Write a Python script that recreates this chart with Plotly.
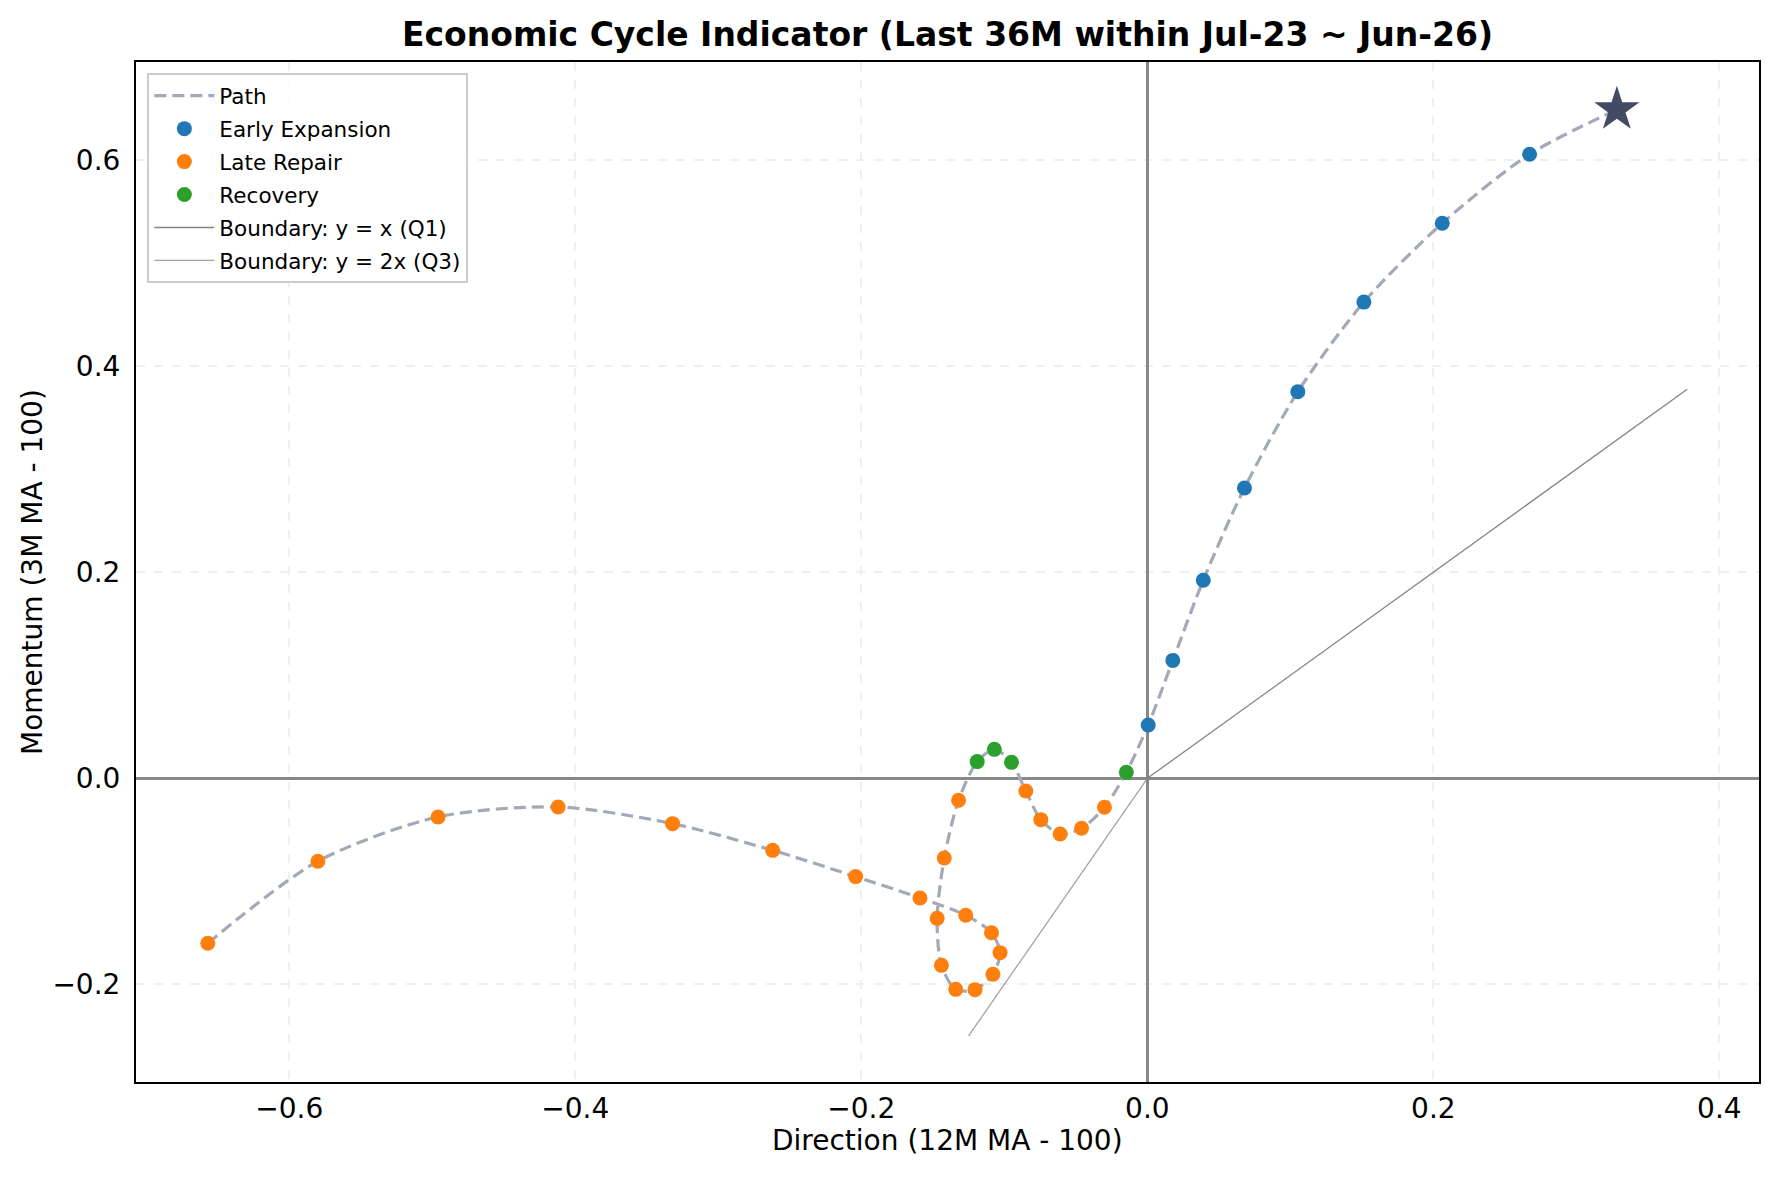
import plotly.graph_objects as go

# ---- data ----
direction = [-0.657, -0.580, -0.496, -0.412, -0.332, -0.262, -0.204, -0.159,
             -0.127, -0.109, -0.103, -0.108, -0.1205, -0.134, -0.144, -0.147,
             -0.142, -0.132,
             -0.119, -0.107, -0.095,
             -0.085, -0.0745, -0.061, -0.046, -0.030,
             -0.0147,
             0.0006, 0.0178, 0.0391, 0.0679, 0.1052, 0.1514, 0.2062, 0.2673, 0.3283]
momentum = [-0.160, -0.0805, -0.0375, -0.0278, -0.0440, -0.0699, -0.0954, -0.1161,
            -0.1329, -0.1498, -0.1692, -0.1902, -0.2051, -0.2048, -0.1815, -0.1359,
            -0.0773, -0.0213,
            0.0162, 0.0281, 0.0155,
            -0.0123, -0.0401, -0.0540, -0.0485, -0.0281,
            0.0058,
            0.0517, 0.1144, 0.1922, 0.2817, 0.3751, 0.4621, 0.5386, 0.6056, 0.6489]
phase = (["Late Repair"] * 18 + ["Recovery"] * 3 + ["Late Repair"] * 5 +
         ["Recovery"] + ["Early Expansion"] * 9)

phase_order = ["Early Expansion", "Late Repair", "Recovery"]
phase_colors = {"Early Expansion": "#1f77b4", "Late Repair": "#ff7f0e", "Recovery": "#2ca02c"}

q1_x = [0.0, 0.3775]
q1_y = [0.0, 0.3775]
q3_x = [-0.125, 0.0]
q3_y = [-0.25, 0.0]

x_ticks = [-0.6, -0.4, -0.2, 0.0, 0.2, 0.4]
y_ticks = [-0.2, 0.0, 0.2, 0.4, 0.6]

FONT = "DejaVu Sans"

fig = go.Figure()

fig.add_trace(go.Scatter(
    x=direction, y=momentum, mode="lines", name="Path", legendgroup="g0",
    line=dict(color="#a3a9b6", width=3.2, dash="12px,6px", shape="spline", smoothing=0.8),
))

for i, ph in enumerate(phase_order):
    xs = [x for x, p in zip(direction, phase) if p == ph]
    ys = [y for y, p in zip(momentum, phase) if p == ph]
    fig.add_trace(go.Scatter(
        x=xs, y=ys, mode="markers", name=ph, legendgroup=f"g{i+1}",
        marker=dict(color=phase_colors[ph], size=15, line=dict(width=0)),
    ))

fig.add_trace(go.Scatter(
    x=q1_x, y=q1_y, mode="lines", name="Boundary: y = x (Q1)", legendgroup="g4",
    line=dict(color="rgba(110,110,110,0.85)", width=1.3),
))
fig.add_trace(go.Scatter(
    x=q3_x, y=q3_y, mode="lines", name="Boundary: y = 2x (Q3)", legendgroup="g5",
    line=dict(color="rgba(140,140,140,0.8)", width=1.3),
))

fig.add_trace(go.Scatter(
    x=[direction[-1]], y=[momentum[-1]], mode="markers", showlegend=False,
    marker=dict(symbol="star", size=34, color="#434a64", line=dict(width=0)),
))

fig.update_layout(
    width=1779, height=1178,
    margin=dict(l=136, r=20, t=62, b=96),
    paper_bgcolor="white", plot_bgcolor="white",
    font=dict(family=FONT, size=28, color="black"),
    title=dict(text="<b>Economic Cycle Indicator (Last 36M within Jul-23 ~ Jun-26)</b>",
               xref="paper", x=0.5, xanchor="center", y=1 - 34 / 1178, yanchor="middle",
               font=dict(family=FONT, size=33, color="black")),
    showlegend=True,
    legend=dict(x=0.007, y=0.989, xanchor="left", yanchor="top",
                bgcolor="rgba(255,255,255,0.8)", bordercolor="#cccccc", borderwidth=2,
                font=dict(family=FONT, size=21.5), itemsizing="trace", itemwidth=60,
                tracegroupgap=2),
    annotations=[
        dict(text="Direction (12M MA - 100)", xref="paper", yref="paper",
             x=0.5, y=-(1140 - 1082) / 1020, xanchor="center", yanchor="middle",
             showarrow=False, font=dict(family=FONT, size=28)),
        dict(text="Momentum (3M MA - 100)", xref="paper", yref="paper",
             x=(32 - 136) / 1623, y=0.5, xanchor="center", yanchor="middle",
             textangle=-90, showarrow=False, font=dict(family=FONT, size=28)),
    ],
)

fig.update_xaxes(range=[-0.7072, 0.4277], tickvals=x_ticks,
                 ticktext=[("\u2212" if v < 0 else "") + f"{abs(v):.1f}" for v in x_ticks],
                 showgrid=True, gridcolor="#efefef", griddash="dash", gridwidth=1.5,
                 zeroline=True, zerolinecolor="#888888", zerolinewidth=2.6,
                 showline=True, linecolor="black", linewidth=2, mirror=True,
                 ticks="", ticklabelstandoff=0, tickfont=dict(family=FONT, size=28))
fig.update_yaxes(range=[-0.2947, 0.6951], tickvals=y_ticks,
                 ticktext=[("\u2212" if v < 0 else "") + f"{abs(v):.1f}" for v in y_ticks],
                 showgrid=True, gridcolor="#efefef", griddash="dash", gridwidth=1.5,
                 zeroline=True, zerolinecolor="#888888", zerolinewidth=2.6,
                 showline=True, linecolor="black", linewidth=2, mirror=True,
                 ticks="", ticklabelstandoff=8, tickfont=dict(family=FONT, size=28))

fig.write_html("out.html")
